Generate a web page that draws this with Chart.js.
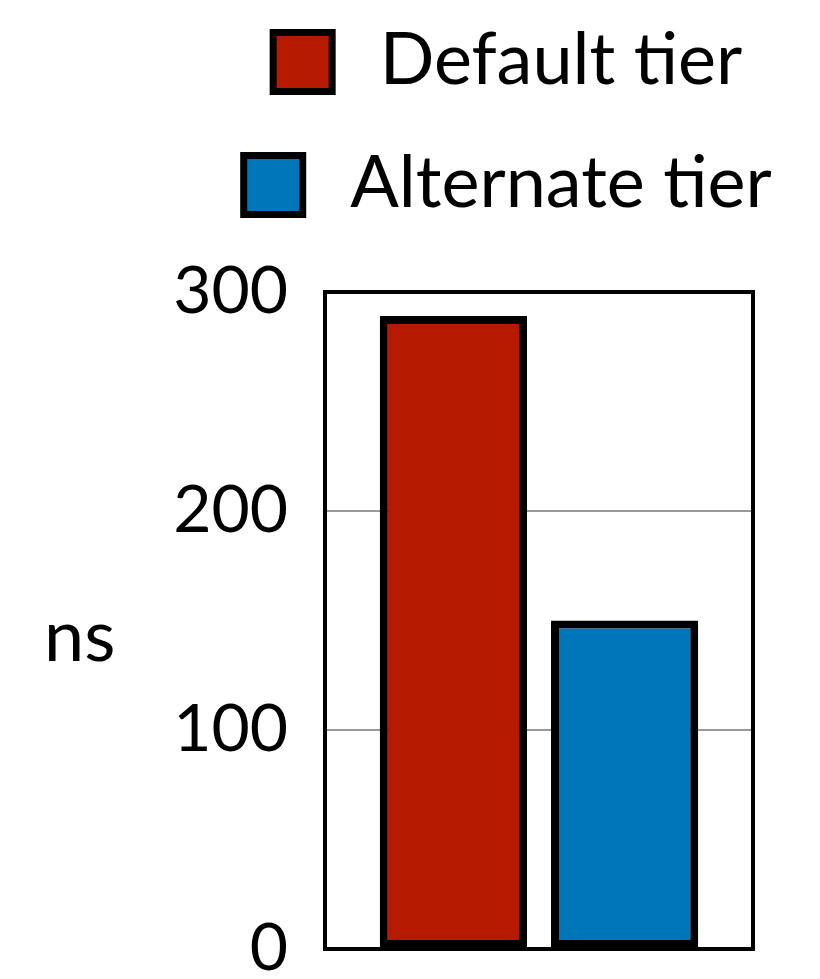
<!DOCTYPE html>
<html>
<head>
<meta charset="utf-8">
<script src="https://cdn.jsdelivr.net/npm/chart.js@4"></script>
<style>
  html, body { margin: 0; padding: 0; background: #fff; }
  canvas { display: block; }
</style>
</head>
<body>
<canvas id="barChart" width="820" height="979"></canvas>
<script>
const categories = [''];
const seriesNames = ['Default tier', 'Alternate tier'];
const defaultTier = [289];
const alternateTier = [150];
const yTicks = [0, 100, 200, 300];

const FONT = 'Lato';
const FONT_SIZE = 66;
const LEGEND_SIZE = 72;

Chart.defaults.font.family = FONT;
Chart.defaults.font.size = FONT_SIZE;
Chart.defaults.color = '#000';

/*
 * Black box round the plot area
 */
const plotFrame = {
    id: 'plotFrame',
    beforeDatasetsDraw(chart) {
        const {ctx, chartArea: {top, left, right, bottom}} = chart;
        ctx.save();
        ctx.strokeStyle = '#000';
        ctx.lineWidth = 4;
        ctx.strokeRect(left, top, right - left, bottom - top);
        ctx.restore();
    }
};

/*
 * Horizontal "ns" label on the left
 */
const unitLabel = {
    id: 'unitLabel',
    afterDraw(chart) {
        const {ctx, chartArea: {top, bottom}} = chart;
        ctx.save();
        ctx.fillStyle = '#000';
        ctx.font = LEGEND_SIZE + 'px ' + FONT;
        ctx.textAlign = 'left';
        ctx.textBaseline = 'alphabetic';
        ctx.fillText('ns', 44, (top + bottom) / 2 + 40);
        ctx.restore();
    }
};

/*
 * Legend, one row per dataset, rows centred on the same x
 */
const stackedLegend = {
    id: 'stackedLegend',
    afterDraw(chart) {
        const ctx = chart.ctx;
        const box = 66, gap = 44, centerX = 506;
        const rowsY = [62, 185];
        ctx.save();
        ctx.font = LEGEND_SIZE + 'px ' + FONT;
        ctx.textBaseline = 'alphabetic';
        ctx.textAlign = 'left';
        chart.data.datasets.forEach((ds, i) => {
            const w = ctx.measureText(ds.label).width;
            const total = box + gap + w;
            const x = centerX - total / 2;
            const y = rowsY[i];
            ctx.fillStyle = '#000';
            ctx.fillRect(x, y - box / 2, box, box);
            ctx.fillStyle = ds.backgroundColor;
            ctx.fillRect(x + 7, y - box / 2 + 7, box - 14, box - 14);
            ctx.fillStyle = '#000';
            ctx.fillText(ds.label, x + box + gap, y + 22);
        });
        ctx.restore();
    }
};

let canvas = document.getElementById('barChart').getContext('2d');
let barChart = new Chart(canvas, {
    type: 'bar',
    plugins: [plotFrame, unitLabel, stackedLegend],

    data: {
        labels: categories,
        datasets: [
            {
                label: seriesNames[0],
                data: defaultTier,
                backgroundColor: '#B51A00',
                borderColor: '#000',
                borderWidth: 8,
                borderSkipped: false
            },
            {
                label: seriesNames[1],
                data: alternateTier,
                backgroundColor: '#0076BA',
                borderColor: '#000',
                borderWidth: 8,
                borderSkipped: false
            }
        ]
    },

    options: {
        responsive: false,
        animation: false,
        devicePixelRatio: 1,
        categoryPercentage: 0.8,
        barPercentage: 0.86,

        layout: {
            padding: {
                top: 292,
                right: 67,
                bottom: 30,
                left: 0
            }
        },

        plugins: {
            legend: { display: false },
            tooltip: { enabled: false }
        },

        scales: {
            x: {
                display: false
            },
            y: {
                min: yTicks[0],
                max: yTicks[yTicks.length - 1],
                afterBuildTicks(scale) {
                    scale.ticks = yTicks.map(v => ({value: v}));
                },
                afterFit(scale) {
                    scale.width = 325;
                    scale.paddingTop = 0;
                    scale.paddingBottom = 0;
                },
                ticks: {
                    padding: 37,
                    color: '#000'
                },
                grid: {
                    drawTicks: false,
                    lineWidth: 2,
                    color: (c) => (c.tick && (c.tick.value === 100 || c.tick.value === 200)) ? '#999' : 'rgba(0,0,0,0)'
                },
                border: { display: false }
            }
        }
    }
});
</script>
</body>
</html>
